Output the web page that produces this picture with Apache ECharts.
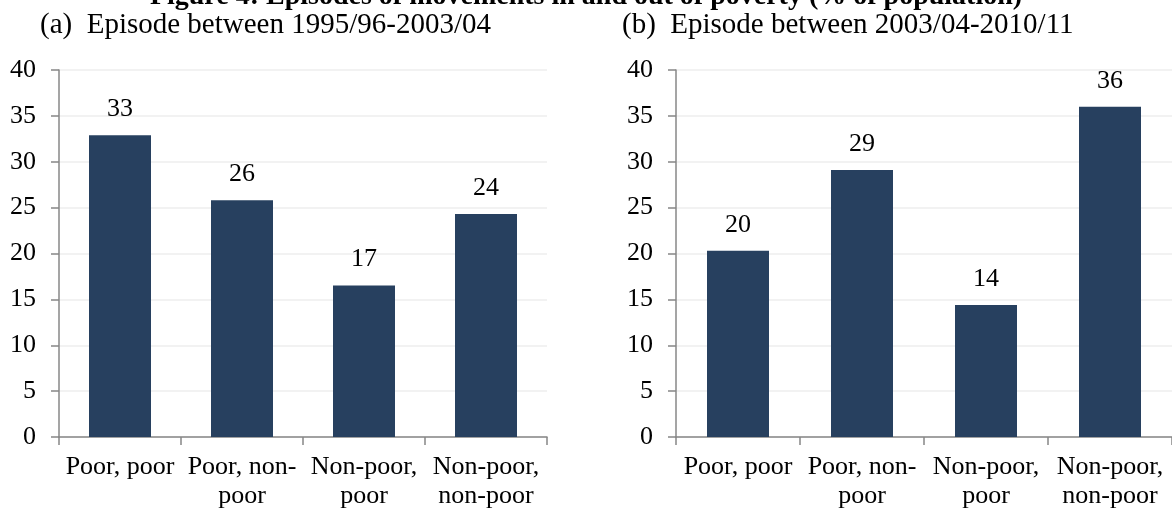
<!DOCTYPE html>
<html>
<head>
<meta charset="utf-8">
<script src="https://cdn.jsdelivr.net/npm/echarts@6/dist/echarts.min.js"></script>
<style>
  html, body { margin: 0; padding: 0; background: #fff; }
  #chart { width: 1172px; height: 512px; }
</style>
</head>
<body>
<div id="chart"></div>
<script>
// Transition categories (status in first year, status in second year)
const categories = ['Poor, poor', 'Poor, non-\npoor', 'Non-poor,\npoor', 'Non-poor,\nnon-poor'];
// % of population, episode 1995/96-2003/04
const episodeA = [32.9, 25.8, 16.5, 24.3];
// % of population, episode 2003/04-2010/11
const episodeB = [20.3, 29.1, 14.4, 36.0];

const figureTitle = 'Figure 4: Episodes of movements in and out of poverty (% of population)';
const panelTitles = ['(a)  Episode between 1995/96-2003/04', '(b)  Episode between 2003/04-2010/11'];

const FONT = 'Liberation Serif, Times New Roman, serif';
const BAR = '#27405f';
const AXIS = '#878787';

const chart = echarts.init(document.getElementById('chart'));

function xAxis(gi) {
  return {
    type: 'category', gridIndex: gi, data: categories,
    axisLine: { lineStyle: { color: AXIS, width: 1.5 } },
    axisTick: { show: true, length: 8, lineStyle: { color: AXIS, width: 1.5 } },
    axisLabel: { color: '#000', fontFamily: FONT, fontSize: 26, lineHeight: 29, margin: 16, interval: 0 }
  };
}
function yAxis(gi) {
  return {
    type: 'value', gridIndex: gi, min: 0, max: 40, interval: 5,
    axisLine: { show: true, lineStyle: { color: AXIS, width: 1.5 } },
    axisTick: { show: true, length: 8, lineStyle: { color: AXIS, width: 1.5 } },
    axisLabel: { color: '#000', fontFamily: FONT, fontSize: 26, margin: 23 },
    splitLine: { lineStyle: { color: '#eeeeee', width: 1.5 } }
  };
}
function bars(gi, values) {
  return {
    type: 'bar', xAxisIndex: gi, yAxisIndex: gi, data: values,
    barWidth: 62,
    itemStyle: { color: BAR },
    label: {
      show: true, position: 'top', distance: 13,
      color: '#000', fontFamily: FONT, fontSize: 26,
      formatter: p => Math.round(p.value)
    },
    silent: true
  };
}

chart.setOption({
  animation: false,
  grid: [
    { left: 59, top: 70, width: 488, height: 367 },
    { left: 676, top: 70, width: 504, height: 367 }
  ],
  xAxis: [xAxis(0), xAxis(1)],
  yAxis: [yAxis(0), yAxis(1)],
  series: [bars(0, episodeA), bars(1, episodeB)],
  graphic: [
    {
      type: 'text', left: 'center', top: -17,
      style: { text: figureTitle, font: 'bold 28px ' + FONT, fill: '#000' }
    },
    {
      type: 'text', x: 40, y: 11,
      style: { text: panelTitles[0], font: '29px ' + FONT, fill: '#000' }
    },
    {
      type: 'text', x: 622, y: 11,
      style: { text: panelTitles[1], font: '29px ' + FONT, fill: '#000' }
    }
  ]
});
</script>
</body>
</html>
